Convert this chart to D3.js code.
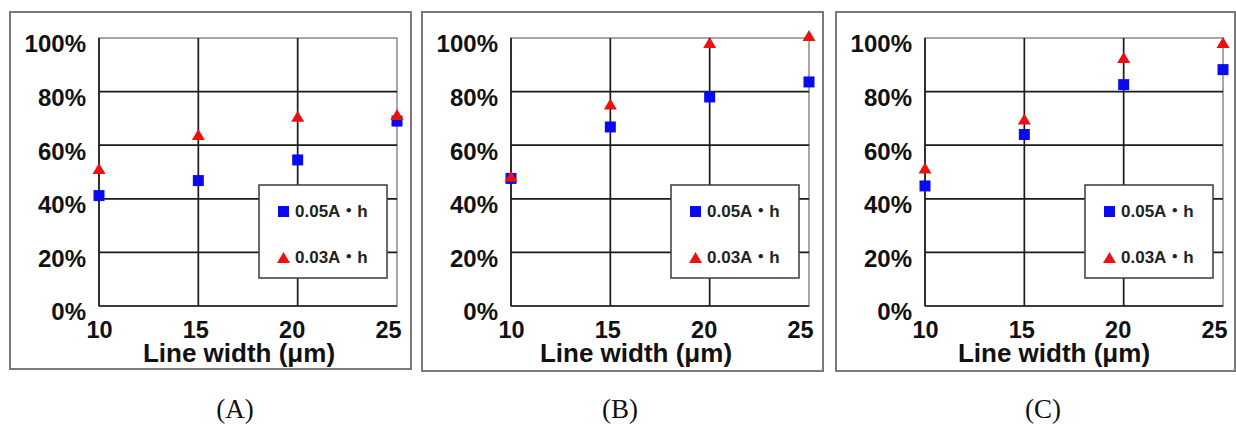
<!DOCTYPE html>
<html>
<head>
<meta charset="utf-8">
<script src="https://cdn.jsdelivr.net/npm/d3@7/dist/d3.min.js"></script>
<style>
  html, body { margin: 0; padding: 0; background: #fff; }
  svg { display: block; }
  .tick-label { font-family: "Liberation Sans", Arial, sans-serif; font-weight: bold; fill: #111; }
  .legend-label { font-family: "Liberation Sans", Arial, "Noto Sans CJK JP", sans-serif; font-weight: bold; fill: #222; }
  .caption { font-family: "Liberation Serif", "Times New Roman", serif; fill: #111; }
</style>
</head>
<body>
<svg id="chart" width="1236" height="425"></svg>
<script>
// Line widths (µm) on the x axis
const lineWidths = [10, 15, 20, 25];
// Percent tick values on the y axis
const percentTicks = [0, 20, 40, 60, 80, 100];
const seriesNames = ["0.05A・h", "0.03A・h"];
const panelNames = ["(A)", "(B)", "(C)"];

// Panel (A)
const a005 = [41.2, 46.8, 54.5, 69.0];
const a003 = [51.3, 64.0, 70.8, 71.5];
// Panel (B)
const b005 = [47.6, 66.8, 78.0, 83.6];
const b003 = [48.4, 75.4, 98.3, 100.9];
// Panel (C)
const c005 = [44.8, 64.0, 82.6, 88.2];
const c003 = [51.5, 69.8, 92.7, 98.3];

const panels = [
  { name: panelNames[0], s1: a005, s2: a003, frameX: 10,  frameW: 401, frameH: 357, titleX: 229, captionX: 235 },
  { name: panelNames[1], s1: b005, s2: b003, frameX: 422, frameW: 401, frameH: 359, titleX: 214, captionX: 620 },
  { name: panelNames[2], s1: c005, s2: c003, frameX: 836, frameW: 399, frameH: 359, titleX: 218, captionX: 1043 }
];

const BLUE = "#0a0af0";
const RED = "#ec1010";
const svg = d3.select("#chart");

const plotLeft = 89, plotTop = 26, plotW = 298, plotH = 268;

panels.forEach(p => {
  const g = svg.append("g").attr("transform", `translate(${p.frameX},12)`);

  // outer frame
  g.append("rect")
    .attr("x", 0).attr("y", 0)
    .attr("width", p.frameW).attr("height", p.frameH)
    .attr("fill", "#fff").attr("stroke", "#7a7a7a").attr("stroke-width", 2);

  const x = d3.scaleLinear().domain([10, 25]).range([0, plotW]);
  const y = d3.scaleLinear().domain([0, 100]).range([plotH, 0]);

  const plot = g.append("g").attr("transform", `translate(${plotLeft},${plotTop})`);

  // plot area border
  plot.append("rect")
    .attr("x", 0).attr("y", 0).attr("width", plotW).attr("height", plotH)
    .attr("fill", "none").attr("stroke", "#8a8a8a").attr("stroke-width", 1.5);

  // horizontal gridlines
  plot.selectAll(".hgrid").data(percentTicks.filter(t => t < 100)).join("line")
    .attr("x1", 0).attr("x2", plotW)
    .attr("y1", d => y(d)).attr("y2", d => y(d))
    .attr("stroke", "#1a1a1a").attr("stroke-width", 1.7);

  // vertical gridlines
  plot.selectAll(".vgrid").data(lineWidths.filter(t => t < 25)).join("line")
    .attr("x1", d => x(d)).attr("x2", d => x(d))
    .attr("y1", 0).attr("y2", plotH)
    .attr("stroke", "#1a1a1a").attr("stroke-width", 1.7);

  // y axis labels
  const yAxis = d3.axisLeft(y).tickValues(percentTicks).tickSize(0).tickPadding(14)
    .tickFormat(d => d + "%");
  const ya = plot.append("g").call(yAxis);
  ya.select(".domain").remove();
  ya.selectAll("text").attr("class", "tick-label").attr("font-size", 24)
    .attr("x", -13).attr("dy", "0.58em");

  // x axis labels
  const xAxis = d3.axisBottom(x).tickValues(lineWidths).tickSize(0).tickPadding(15)
    .tickFormat(d3.format("d"));
  const xa = plot.append("g").attr("transform", `translate(0,${plotH})`).call(xAxis);
  xa.select(".domain").remove();
  xa.selectAll("text").attr("class", "tick-label").attr("font-size", 23.5)
    .attr("dx", d => -(d - 10) * 0.6);

  // axis title
  g.append("text").attr("class", "tick-label")
    .attr("x", p.titleX).attr("y", 350)
    .attr("text-anchor", "middle").attr("font-size", 26)
    .text("Line width (μm)");

  // legend
  const lg = plot.append("g").attr("transform", "translate(160,147)");
  lg.append("rect").attr("x", 0).attr("y", 0).attr("width", 128).attr("height", 93)
    .attr("fill", "#fff").attr("stroke", "#3a3a3a").attr("stroke-width", 1.5);
  lg.append("rect").attr("x", 19).attr("y", 21).attr("width", 11).attr("height", 11).attr("fill", BLUE);
  lg.append("path").attr("d", "M24.5,67 L31,78 L18,78 Z").attr("fill", RED);
  lg.append("text").attr("class", "legend-label").attr("x", 36).attr("y", 32)
    .attr("font-size", 17).text(seriesNames[0]);
  lg.append("text").attr("class", "legend-label").attr("x", 36).attr("y", 78)
    .attr("font-size", 17).text(seriesNames[1]);

  // 0.05A・h squares
  plot.selectAll(".sq").data(p.s1).join("rect")
    .attr("x", (d, i) => x(lineWidths[i]) - 5.5)
    .attr("y", d => y(d) - 5.5)
    .attr("width", 11).attr("height", 11)
    .attr("fill", BLUE);

  // 0.03A・h triangles (bounding box centred on the value)
  plot.selectAll(".tri").data(p.s2).join("path")
    .attr("transform", (d, i) => `translate(${x(lineWidths[i])},${y(d)})`)
    .attr("d", "M0,-5.5 L6.5,5.5 L-6.5,5.5 Z")
    .attr("fill", RED);

  // panel caption
  svg.append("text").attr("class", "caption")
    .attr("x", p.captionX).attr("y", 418)
    .attr("text-anchor", "middle").attr("font-size", 27)
    .text(p.name);
});
</script>
</body>
</html>
